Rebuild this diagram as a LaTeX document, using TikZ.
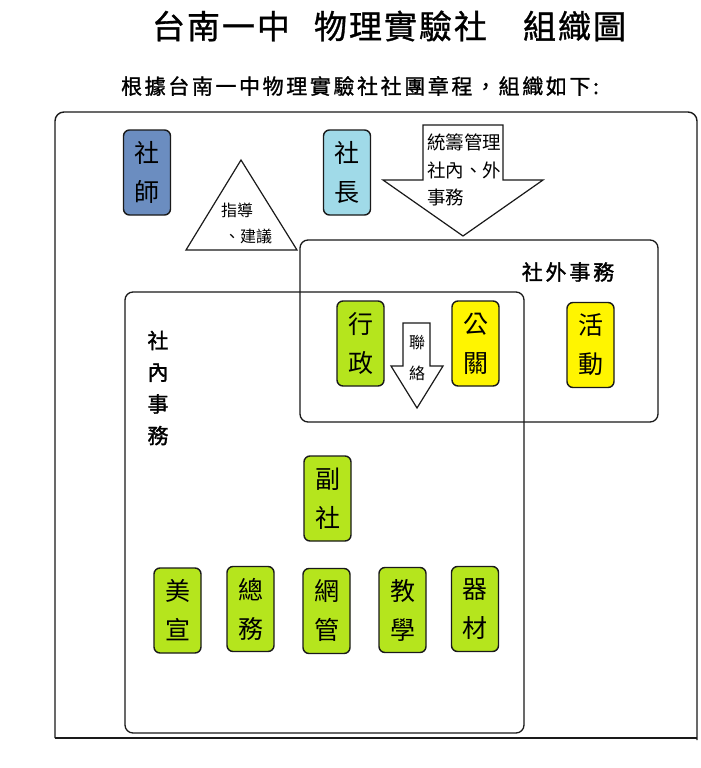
\documentclass[tikz,border=0pt]{standalone}
\usepackage{fontspec}
\newfontfamily\cjk{Noto Sans CJK TC}
\newfontfamily\cjktitle{Noto Sans CJK TC}[FakeBold=1]
\newfontfamily\cjksub{Noto Sans CJK TC}[FakeBold=1.2]
\newfontfamily\cjkbold{Noto Sans CJK TC}[FakeBold=1.5]
\newcommand\titk{\kern2pt}
\newcommand\subk{\kern2.6pt}
\newcommand\labk{\kern2.8pt}
\definecolor{teacherblue}{HTML}{6B8DC0}
\definecolor{leaderblue}{HTML}{A0DAE8}
\definecolor{rolegreen}{HTML}{B5E51D}
\definecolor{roleyellow}{HTML}{FFF500}
\definecolor{edge}{HTML}{1A1A1A}
\tikzset{
  rolebox/.style={draw=edge, line width=1.4pt, rounded corners=6pt,
    minimum width=47pt, minimum height=85pt, inner sep=0pt, align=center,
    font=\cjk\fontsize{25}{39}\selectfont},
  region/.style={draw=edge, line width=1.3pt, rounded corners=8pt, inner sep=0pt},
  frame/.style={draw=edge, line width=1.4pt},
  shapeline/.style={draw=edge, line width=1.2pt, fill=white, line join=miter},
  smalltext/.style={font=\cjk\fontsize{16}{18}\selectfont, inner sep=0pt},
  arrowtext/.style={font=\cjk\fontsize{18.5}{20}\selectfont, inner sep=0pt, anchor=west},
  labeltext/.style={font=\cjkbold\fontsize{21}{23}\selectfont, inner sep=0pt}
}
\begin{document}
\begin{tikzpicture}[x=1pt,y=-1pt]
\useasboundingbox[fill=white] (0,0) rectangle (701,768);

% titles
\node[inner sep=0pt, font=\cjktitle\fontsize{33}{35}\selectfont] (title) at (389,26)
  {台\titk 南\titk 一\titk 中\hspace{24pt}物\titk 理\titk 實\titk 驗\titk 社\hspace{36pt}組\titk 織\titk 圖};
\node[inner sep=0pt, font=\cjksub\fontsize{21}{23}\selectfont] (subtitle) at (360,86)
  {根\subk 據\subk 台\subk 南\subk 一\subk 中\subk 物\subk 理\subk 實\subk 驗\subk 社\subk 社\subk 團\subk 章\subk 程\subk ，\subk 組\subk 織\subk 如\subk 下\subk :};

% outer frame
\draw[frame, rounded corners=9pt] (55,738) -- (55,112) -- (697,112) -- (697,740);
\draw[frame] (55,738) -- (697,738);

% regions
\node[region, minimum width=358pt, minimum height=182pt] (outside) at (479,331) {};
\node[region, minimum width=399pt, minimum height=441pt] (inside) at (324.5,512.5) {};
\node[labeltext] (outlabel) at (568,272) {社\labk 外\labk 事\labk 務};
\node[labeltext, align=center, font=\cjkbold\fontsize{21}{31.7}\selectfont] (inlabel) at (158,388) {社\\內\\事\\務};

% triangle
\coordinate (triA) at (241,160);
\coordinate (triB) at (186,250);
\coordinate (triC) at (297,250);
\draw[shapeline] (triA) -- (triB) -- (triC) -- cycle;
\node[smalltext] (tri1) at (237,210) {指導};
\node[smalltext] (tri2) at (248,236) {、建議};

% big arrow
\draw[shapeline] (423,125) -- (503,125) -- (503,180) -- (543,180) -- (463,236)
  -- (383,180) -- (423,180) -- cycle;
\node[arrowtext] (ar1) at (427,142) {統籌管理};
\node[arrowtext] (ar2) at (427,170) {社內、外};
\node[arrowtext] (ar3) at (427,197) {事務};

% liaison arrow
\draw[shapeline] (403,323) -- (430,323) -- (430,366) -- (443,366) -- (417,408)
  -- (391,366) -- (403,366) -- cycle;
\node[smalltext] (lia1) at (417,343) {聯};
\node[smalltext] (lia2) at (417,373) {絡};

% role boxes
\node[rolebox, fill=teacherblue] (teacher) at (147,172.5) {社\\師};
\node[rolebox, fill=leaderblue] (leader) at (347,172.5) {社\\長};
\node[rolebox, fill=rolegreen] (admin) at (360.5,343.5) {行\\政};
\node[rolebox, fill=roleyellow] (pr) at (475.5,343.5) {公\\關};
\node[rolebox, fill=roleyellow] (event) at (590.5,345) {活\\動};
\node[rolebox, fill=rolegreen] (vice) at (327.5,498.5) {副\\社};
\node[rolebox, fill=rolegreen] (art) at (177.5,610.5) {美\\宣};
\node[rolebox, fill=rolegreen] (general) at (250.5,609) {總\\務};
\node[rolebox, fill=rolegreen] (web) at (326.5,611) {網\\管};
\node[rolebox, fill=rolegreen] (teach) at (402.5,610) {教\\學};
\node[rolebox, fill=rolegreen] (equip) at (475,609) {器\\材};
\end{tikzpicture}
\end{document}
